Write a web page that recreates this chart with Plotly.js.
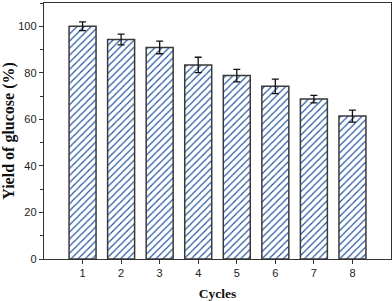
<!DOCTYPE html>
<html><head><meta charset="utf-8">
<script src="https://cdn.plot.ly/plotly-3.0.1.min.js"></script>
<style>body{margin:0;padding:0;background:#fff}#c{width:392px;height:301px}</style>
</head><body><div id="c"></div>
<script>
var cycles = [1,2,3,4,5,6,7,8];
var yieldVals = [100.0, 94.3, 90.9, 83.4, 78.8, 74.2, 68.7, 61.4];
var errVals = [1.9, 2.3, 2.7, 3.3, 2.7, 3.1, 1.6, 2.6];
var yTicks = [0,20,40,60,80,100];

var trace = {
  type:'bar', x:cycles, y:yieldVals, width:0.7,
  marker:{color:'#ffffff', line:{color:'#3a3a3a', width:1.5},
    pattern:{shape:'/', fgcolor:'#1d4f9e', bgcolor:'#ffffff', size:5, solidity:0.22}},
  error_y:{type:'data', array:errVals, visible:true, color:'#111', thickness:1.3, width:3.5}
};
var layout = {
  width:392, height:301,
  margin:{l:44, r:1, t:3, b:42},
  paper_bgcolor:'#fff', plot_bgcolor:'#fff',
  showlegend:false,
  xaxis:{range:[0,9], tickvals:cycles, ticks:'outside', ticklen:4, tickcolor:'#333',
    showline:true, linecolor:'#333', linewidth:1.2, mirror:true, showgrid:false, zeroline:false,
    tickfont:{family:'Liberation Sans, Arial', size:11, color:'#222'},
    title:{text:'Cycles', font:{family:'Liberation Serif, Times New Roman', size:13.5, color:'#111', weight:'bold'}, standoff:12}},
  yaxis:{range:[0,110], tickvals:yTicks, ticks:'outside', ticklen:4, tickcolor:'#333',
    minor:{tickvals:[10,30,50,70,90,110], ticks:'outside', ticklen:2.5, tickcolor:'#333'},
    showline:true, linecolor:'#333', linewidth:1.2, mirror:true, showgrid:false, zeroline:false,
    tickfont:{family:'Liberation Sans, Arial', size:11, color:'#222'},
    title:{text:'Yield of glucose (%)', font:{family:'Liberation Serif, Times New Roman', size:16, color:'#111', weight:'bold'}, standoff:6}}
};
Plotly.newPlot('c',[trace],layout,{displayModeBar:false, staticPlot:true});
</script></body></html>
